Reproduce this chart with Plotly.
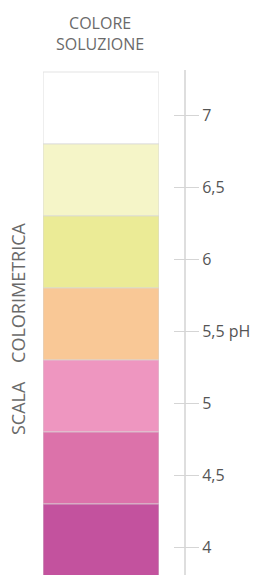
import plotly.graph_objects as go

# Data
ph_values = [7, 6.5, 6, 5.5, 5, 4.5, 4]
block_colors = ["#ffffff", "#f5f5c8", "#ebeb96", "#f9c896", "#ee96c0", "#dc72aa", "#c3529e"]
tick_labels = ["7", "6,5", "6", "5,5 pH", "5", "4,5", "4"]
block_height = 0.5

W, H = 257, 575
TOP, BOTTOM = 70, 575
PX_PER_UNIT = 144.0


def px(x):
    return x / W


def py(y):
    return (BOTTOM - y) / (BOTTOM - TOP)


fig = go.Figure()

fig.add_trace(go.Bar(
    x=[0] * len(ph_values),
    y=[block_height] * len(ph_values),
    base=[v - block_height / 2 for v in ph_values],
    width=1,
    marker=dict(color=block_colors, line=dict(color="rgba(215,215,215,0.7)", width=1.2)),
    hoverinfo="skip",
    showlegend=False,
))

# helper invisible traces so overlaying axes are drawn
fig.add_trace(go.Scatter(x=[0], y=[ph_values[0]], yaxis="y2", mode="markers",
                         marker=dict(opacity=0), hoverinfo="skip", showlegend=False))
fig.add_trace(go.Scatter(x=[0], y=[ph_values[0]], yaxis="y3", mode="markers",
                         marker=dict(opacity=0), hoverinfo="skip", showlegend=False))

bar_top = max(ph_values) + block_height / 2 + 2 / PX_PER_UNIT
bar_range = [bar_top - (BOTTOM - TOP) / PX_PER_UNIT, bar_top]
tick_top = max(ph_values) + 45 / PX_PER_UNIT
tick_range = [tick_top - (BOTTOM - TOP) / PX_PER_UNIT, tick_top]

fig.update_layout(
    width=W, height=H,
    margin=dict(l=0, r=0, t=TOP, b=H - BOTTOM),
    paper_bgcolor="white", plot_bgcolor="white",
    barmode="overlay",
    font=dict(family="Open Sans", color="#666"),
    xaxis=dict(domain=[px(43), px(159)], range=[-0.5, 0.5], visible=False, fixedrange=True),
    yaxis=dict(range=bar_range, visible=False, fixedrange=True),
    yaxis2=dict(
        overlaying="y", anchor="free", position=px(173), side="right",
        range=tick_range, tickmode="array", tickvals=ph_values, ticktext=tick_labels,
        ticks="outside", ticklen=25, tickwidth=1, tickcolor="#d5d5d5",
        showline=False, showgrid=False, zeroline=False,
        tickfont=dict(family="Open Sans", size=16, color="#555"),
        ticklabelstandoff=0, fixedrange=True,
    ),
    yaxis3=dict(
        overlaying="y", anchor="free", position=px(184.5), side="right",
        range=tick_range, showticklabels=False, ticks="",
        showline=True, linecolor="#dedede", linewidth=1.5,
        showgrid=False, zeroline=False, fixedrange=True,
    ),
    annotations=[
        dict(text="COLORE<br>SOLUZIONE", xref="paper", yref="paper",
             x=px(100), y=py(34), xanchor="center", yanchor="middle",
             showarrow=False, font=dict(family="Open Sans", size=16, color="#6a6a6a")),
        dict(text="SCALA\u00a0\u00a0\u00a0\u00a0COLORIMETRICA", xref="paper", yref="paper",
             x=px(18), y=py(329), xanchor="center", yanchor="middle",
             textangle=-90, showarrow=False,
             font=dict(family="Open Sans", size=18, color="#6a6a6a")),
    ],
)

fig.write_html(
    "out.html",
    config={"displayModeBar": False},
    post_script="document.body.style.margin='0px';document.body.style.overflow='hidden';",
)
